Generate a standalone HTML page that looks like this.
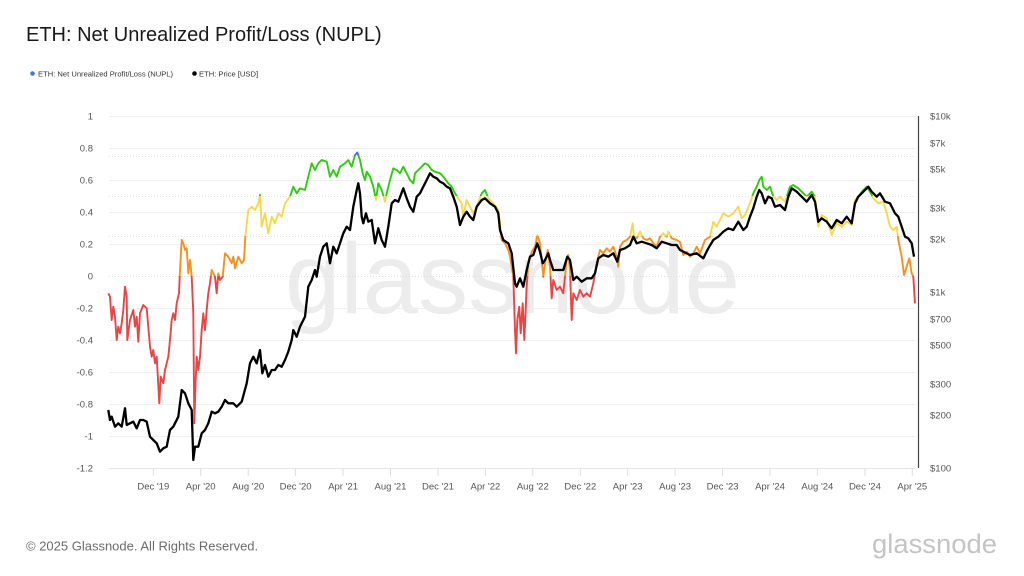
<!DOCTYPE html>
<html>
<head>
<meta charset="utf-8">
<style>
  html,body{margin:0;padding:0;background:#fff;}
  svg{display:block;}
  text{font-family:"Liberation Sans",Arial,sans-serif;}
</style>
</head>
<body>
<svg width="1024" height="576" viewBox="0 0 1024 576" xmlns="http://www.w3.org/2000/svg">
  <defs>
    <clipPath id="cBlue"><rect x="0" y="0" width="1024" height="156"/></clipPath>
    <clipPath id="cGreen"><rect x="0" y="156" width="1024" height="40"/></clipPath>
    <clipPath id="cYellow"><rect x="0" y="196" width="1024" height="40"/></clipPath>
    <clipPath id="cOrange"><rect x="0" y="236" width="1024" height="40"/></clipPath>
    <clipPath id="cRed"><rect x="0" y="276" width="1024" height="300"/></clipPath>
  </defs>

  <!-- Title -->
  <text x="26" y="41" font-size="20" fill="#1a1a1a">ETH: Net Unrealized Profit/Loss (NUPL)</text>

  <!-- Legend -->
  <circle cx="32.5" cy="73.5" r="2.3" fill="#4a72e8"/>
  <text x="38" y="76.5" font-size="7.6" fill="#333">ETH: Net Unrealized Profit/Loss (NUPL)</text>
  <circle cx="194.5" cy="73.5" r="2.3" fill="#000"/>
  <text x="199" y="76.5" font-size="7.6" fill="#333">ETH: Price [USD]</text>

  <!-- Watermark -->
  <text x="285" y="313" font-size="100" fill="#ececec" textLength="455" lengthAdjust="spacingAndGlyphs">glassnode</text>

  <!-- Grid lines -->
  <g stroke="#efefef" stroke-width="1">
    <line x1="109" y1="116.5" x2="915" y2="116.5"/>
    <line x1="109" y1="148.5" x2="915" y2="148.5"/>
    <line x1="109" y1="180.5" x2="915" y2="180.5"/>
    <line x1="109" y1="212.5" x2="915" y2="212.5"/>
    <line x1="109" y1="244.5" x2="915" y2="244.5"/>
    <line x1="109" y1="308.5" x2="915" y2="308.5"/>
    <line x1="109" y1="340.5" x2="915" y2="340.5"/>
    <line x1="109" y1="372.5" x2="915" y2="372.5"/>
    <line x1="109" y1="404.5" x2="915" y2="404.5"/>
    <line x1="109" y1="436.5" x2="915" y2="436.5"/>
  </g>
  <g stroke="#dcdcdc" stroke-width="1" stroke-dasharray="1,2">
    <line x1="109" y1="156.5" x2="915" y2="156.5"/>
    <line x1="109" y1="196.5" x2="915" y2="196.5"/>
    <line x1="109" y1="236.5" x2="915" y2="236.5"/>
    <line x1="109" y1="276.5" x2="915" y2="276.5"/>
  </g>
  <!-- X axis baseline & ticks -->
  <line x1="109" y1="468.5" x2="915" y2="468.5" stroke="#e4e4e4" stroke-width="1"/>
  <g stroke="#dedede" stroke-width="1">
    <line x1="153.3" y1="468" x2="153.3" y2="476"/>
    <line x1="200.7" y1="468" x2="200.7" y2="476"/>
    <line x1="248.2" y1="468" x2="248.2" y2="476"/>
    <line x1="295.6" y1="468" x2="295.6" y2="476"/>
    <line x1="343.1" y1="468" x2="343.1" y2="476"/>
    <line x1="390.5" y1="468" x2="390.5" y2="476"/>
    <line x1="438" y1="468" x2="438" y2="476"/>
    <line x1="485.4" y1="468" x2="485.4" y2="476"/>
    <line x1="532.8" y1="468" x2="532.8" y2="476"/>
    <line x1="580.3" y1="468" x2="580.3" y2="476"/>
    <line x1="627.7" y1="468" x2="627.7" y2="476"/>
    <line x1="675.1" y1="468" x2="675.1" y2="476"/>
    <line x1="722.6" y1="468" x2="722.6" y2="476"/>
    <line x1="770" y1="468" x2="770" y2="476"/>
    <line x1="817.4" y1="468" x2="817.4" y2="476"/>
    <line x1="864.9" y1="468" x2="864.9" y2="476"/>
    <line x1="912.3" y1="468" x2="912.3" y2="476"/>
  </g>

  <!-- Right axis line -->
  <line x1="918.5" y1="116" x2="918.5" y2="468" stroke="#444" stroke-width="1.2"/>

  <!-- Left axis labels -->
  <g font-size="9.5" fill="#555" text-anchor="end">
    <text x="93" y="119.4">1</text>
    <text x="93" y="151.4">0.8</text>
    <text x="93" y="183.4">0.6</text>
    <text x="93" y="215.4">0.4</text>
    <text x="93" y="247.4">0.2</text>
    <text x="93" y="279.4">0</text>
    <text x="93" y="311.4">-0.2</text>
    <text x="93" y="343.4">-0.4</text>
    <text x="93" y="375.4">-0.6</text>
    <text x="93" y="407.4">-0.8</text>
    <text x="93" y="439.4">-1</text>
    <text x="93" y="471.4">-1.2</text>
  </g>

  <!-- Right axis labels -->
  <g font-size="9.5" fill="#555">
    <text x="930" y="119.4">$10k</text>
    <text x="930" y="146.7">$7k</text>
    <text x="930" y="172.4">$5k</text>
    <text x="930" y="211.4">$3k</text>
    <text x="930" y="242.4">$2k</text>
    <text x="930" y="295.4">$1k</text>
    <text x="930" y="322.7">$700</text>
    <text x="930" y="348.4">$500</text>
    <text x="930" y="387.4">$300</text>
    <text x="930" y="418.4">$200</text>
    <text x="930" y="471.4">$100</text>
  </g>

  <!-- X labels -->
  <g font-size="9.5" fill="#555" text-anchor="middle">
    <text x="153.3" y="489.5">Dec '19</text>
    <text x="200.7" y="489.5">Apr '20</text>
    <text x="248.2" y="489.5">Aug '20</text>
    <text x="295.6" y="489.5">Dec '20</text>
    <text x="343.1" y="489.5">Apr '21</text>
    <text x="390.5" y="489.5">Aug '21</text>
    <text x="438" y="489.5">Dec '21</text>
    <text x="485.4" y="489.5">Apr '22</text>
    <text x="532.8" y="489.5">Aug '22</text>
    <text x="580.3" y="489.5">Dec '22</text>
    <text x="627.7" y="489.5">Apr '23</text>
    <text x="675.1" y="489.5">Aug '23</text>
    <text x="722.6" y="489.5">Dec '23</text>
    <text x="770" y="489.5">Apr '24</text>
    <text x="817.4" y="489.5">Aug '24</text>
    <text x="864.9" y="489.5">Dec '24</text>
    <text x="912.3" y="489.5">Apr '25</text>
  </g>

  <!-- NUPL series (colored by band via clip) -->
  <defs>
    <polyline id="nupl" fill="none" stroke-width="1.9" stroke-linejoin="round" points="108.3,293.3 110,296.7 111.7,320 113.3,306.7 115,316.7 116.7,340 118.3,326.7 120,333.3 121.7,323.3 123.3,310 125,286.7 126.7,296.7 127.3,340 130,320 133.3,310 135,326.7 136.7,316.7 138.3,341.7 140,313.3 143.3,305 146.7,308.3 150,346.7 151.7,356.7 153.3,350 155,363.3 156.7,356.7 159.3,403.3 160.7,376.7 163.3,383.3 165,370 168.3,356.7 170,340 171.7,320 173.3,313.3 175,320 176.7,303.3 179,293.3 180,270 181.7,240 183.3,243.3 185,250 186.7,248.3 188.3,273.3 190,260 191.7,276.7 193.3,313.3 194.3,423.3 195.7,380 196.7,356.7 198.3,370 200,356.7 201.7,330 203.3,313.3 205,330 206.7,310 208.3,293.3 210,283.3 211.7,270 215,276.7 216.7,293.3 218.3,273.3 220,280 222.7,276.7 225,253.3 228.3,256.7 231.7,263.3 233.3,256.7 235,268.3 238.3,256.7 241.7,263.3 244,260 245.3,236.7 248.3,210 251.7,206.7 255,210 258.3,203.3 260,195 261.7,226.7 265,213.3 268.3,233.3 271.7,216.7 275,223.3 278.3,213.3 281.7,216.7 285,203.3 290,196.7 293.3,186.7 296.7,193.3 300,188.3 305,190 308.3,176.7 311.7,163.3 315,170 318.3,163.3 321.7,160 326.7,161.7 330,176.7 333.3,170 336.7,176.7 340,166.7 345,163.3 348.3,160 351.7,166.7 355,155 357.3,152.5 360,160 362.7,173.3 365,180 366.7,171.7 370,176.7 373.3,186.7 376,200 378.3,183.3 381.7,190 385,201.7 386.7,193.3 390,180 393.3,168.3 396.7,170 400,173.3 403.3,166.7 406.7,173.3 410,180 413.3,183.3 415,173.3 418.3,170 421.7,166.7 425,163.3 428.3,165 431.7,170 435,171.7 440,173.3 443.3,176.7 448.3,183.3 451.7,186.7 455,193.3 458.3,198.3 461.7,203.3 463.3,216.7 466.7,200 470,206.7 473.3,213.3 476.7,206.7 481.7,193.3 485,190 488.3,198.3 493.3,203.3 498.3,210 500,223.3 501.7,240 505,243.3 508.3,250 510,256.7 513.3,276.7 515,330 516,353.3 517.3,320 519.3,306.7 520.7,333.3 522.7,303.3 524.3,340 526.7,286.7 528.3,263.3 531.7,251.7 535,246.7 537.3,235 540,243.3 541.7,260 543.3,276.7 545,263.3 547.7,250 550,266.7 551.7,298.3 553.3,280 556.7,290 560,286.7 563.3,293.3 566.7,260 568.3,255 570,270 571.7,320 573.3,293.3 576.7,300 580,290 583.3,296.7 586.7,293.3 590,296.7 593.3,283.3 596.7,263.3 600,250 603.3,253.3 606.7,248.3 610,251.7 613.3,246.7 616.7,256.7 618.3,266.7 620,246.7 623.3,241.7 626.7,240 630,236.7 632.7,223.3 634,236.7 636.7,238.3 640,231.7 643.3,238.3 646.7,240 650,238.3 653.3,243.3 656.7,246.7 660,236.7 663.3,233.3 666.7,236.7 668.3,231.7 671.7,238.3 676.7,240 680,242 683.3,255 686.7,251.7 690,256.7 693.3,253.3 696.7,246.7 700,253.3 705,240 710,236.7 713.3,221.7 716.7,226.7 723.3,213.3 728.3,216.7 733.3,213.3 738.3,206.7 741.7,218.3 745,215 750,203.3 753.3,193.3 756.7,186.7 759.3,180 761.7,176.7 763.3,186.7 766.7,190 770,186.7 773.3,196.7 776.7,200 780,196.7 785,201.7 790,186.7 793.3,185 798.3,188.3 803.3,193.3 806.7,196.7 811.7,191.7 815,196.7 818.3,226.7 821.7,215 826.7,218.3 831.7,235 836.7,223.3 841.7,226.7 846.7,221.7 851.7,225 855,200 858.3,196.7 863.3,190 866.7,186.7 870,191.7 873.3,198.3 878.3,203.3 883.3,201.7 886.7,213.3 890,226.7 893.3,230 896.7,226.7 898.3,240 901.7,256.7 904,275 906.7,266.7 909.3,258.3 911.7,273.3 913.3,276.7 915,303.3"/>
  </defs>
  <use href="#nupl" stroke="#eb4444" clip-path="url(#cRed)"/>
  <use href="#nupl" stroke="#f7901e" clip-path="url(#cOrange)"/>
  <use href="#nupl" stroke="#f5d94b" clip-path="url(#cYellow)"/>
  <use href="#nupl" stroke="#2fcb10" clip-path="url(#cGreen)"/>
  <use href="#nupl" stroke="#4d6ef0" clip-path="url(#cBlue)"/>

  <!-- Price series -->
  <polyline fill="none" stroke="#000" stroke-width="2.3" stroke-linejoin="round" points="108.3,410 110,420 111.7,416.7 115,426.7 118.3,423.3 121.7,426.7 125,408.3 126.7,425 130,423.3 133.3,421.7 136.7,428.3 140,420 143.3,420 146.7,421.7 150,436.7 153.3,440 156.7,443.3 160,451.7 163.3,448.3 166.7,446.7 170,430 173.3,426.7 178.3,416.7 181.7,390 185,393.3 188.3,403.3 191.7,410 193.3,460 195,446.7 198.3,446.7 201.7,433.3 205,430 208.3,423.3 211.7,411.7 215,413.3 218.3,411.7 221.7,406.7 225,400 228.3,403.3 233.3,403.3 236.7,406.7 241.7,401.7 246.7,383.3 250,363.3 253.3,356.7 256.7,363.3 260,350 262.3,373.3 265,365 268.3,376.7 271.7,370 275,370 278.3,365 281.7,366.7 285,360 288.3,351.7 291.7,340 293.3,330 296.7,336.7 300,326.7 305,316.7 308.3,286.7 311.7,280 315,270 316.7,276.7 320,256.7 323.3,246.7 326.7,243.3 330,263.3 333.3,246.7 336.7,253.3 340,243.3 343.3,233.3 346.7,226.7 350,230 353.3,206.7 356.7,190 358.3,183.3 360,193.3 361.7,216.7 363.3,223.3 366,213.3 368.3,221.7 371.7,220 375,243.3 378.3,228.3 381.7,240 385,246.7 388.3,226.7 391.7,203.3 395,200 398.3,201.7 403.3,188.3 406.7,198.3 410,206.7 413.3,211.7 416.7,196.7 420,193.3 423.3,186.7 426.7,180 430,173.3 433.3,176.7 436.7,178.3 440,181.7 443.3,183.3 446.7,186.7 450,188.3 453.3,196.7 456.7,206.7 460,225 463.3,216.7 466.7,211.7 470,216.7 473.3,220 476.7,206.7 481.7,200 485,198.3 490,203.3 495,206.7 498.3,213.3 500,230 503.3,240 508.3,243.3 511.7,253.3 515,283.3 516.7,286.7 520,278.3 523.3,286.7 526.7,270 530,256.7 533.3,255 537.3,243.3 540,251.7 542.7,263.3 545,260 548.3,253.3 550,260 553.3,270 558.3,270 563.3,270 567.3,256.7 570,260 573.3,280 576.7,276.7 581.7,281.7 586.7,278.3 591.7,278.3 595,273.3 598.3,258.3 603.3,255 608.3,256.7 613.3,253.3 617.3,261.7 620,250 625,248.3 630,245 633.3,236.7 636.7,243.3 641.7,241.7 646.7,243.3 651.7,245 656.7,248.3 661.7,241.7 666.7,243.3 671.7,245 676.7,245 680,250 690,255 696.7,253.3 703.3,258.3 708.3,248.3 713.3,240 718.3,236.7 723.3,231.7 728.3,228.3 733.3,230 738.3,221.7 743.3,230 746.7,226.7 750,216.7 753.3,208.3 756.7,196.7 759.3,190 761.7,193.3 765,203.3 768.3,196.7 771.7,198.3 775,206.7 780,205 785,210 788.3,196.7 791.7,188.3 796.7,191.7 801.7,196.7 806.7,201.7 811.7,195 815,201.7 818.3,221.7 821.7,218.3 826.7,221.7 831.7,228.3 836.7,220 841.7,223.3 846.7,216.7 851.7,223.3 855,203.3 858.3,196.7 863.3,191.7 868.3,186.7 871.7,191.7 876.7,196.7 880,193.3 885,201.7 890,203.3 895,213.3 898.3,216.7 901.7,226.7 905,236.7 908.3,238.3 911.7,243.3 914,256.7"/>

  <!-- Footer -->
  <text x="26" y="550.5" font-size="13" fill="#6b6b6b">© 2025 Glassnode. All Rights Reserved.</text>
  <text x="872" y="553" font-size="27" fill="#c4c4c4" textLength="125" lengthAdjust="spacingAndGlyphs">glassnode</text>
</svg>
</body>
</html>
